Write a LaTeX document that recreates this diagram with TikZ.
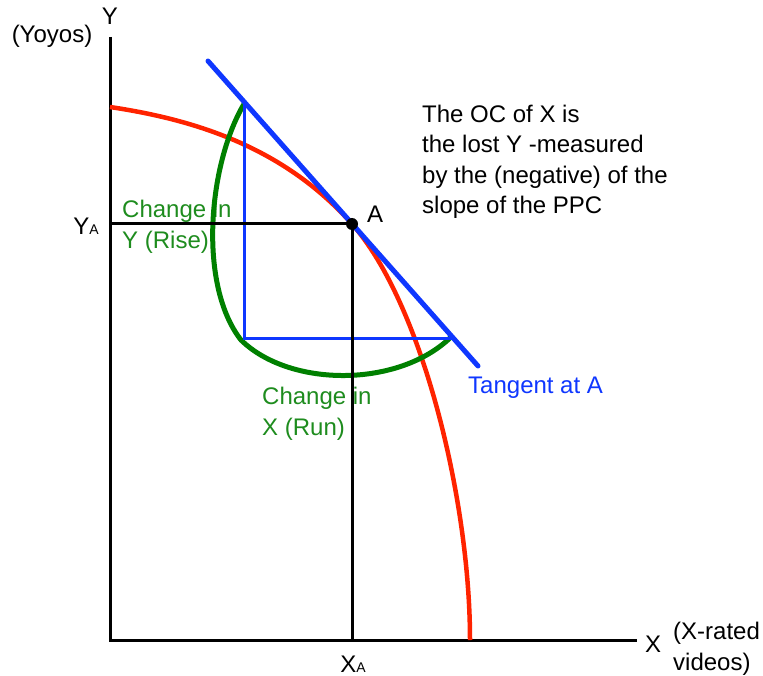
\documentclass[tikz,border=0pt]{standalone}
\usepackage{fontspec}
\setmainfont{Liberation Sans}
\usetikzlibrary{positioning}
\definecolor{ppcred}{RGB}{255,35,0}
\definecolor{tanblue}{RGB}{15,55,255}
\definecolor{chgreen}{RGB}{0,128,0}
\definecolor{chgtxt}{RGB}{30,140,30}
\newcommand{\sub}[1]{{\fontsize{14}{14}\selectfont #1}}

\begin{document}
\begin{tikzpicture}[x=1pt,y=-1pt,
  every node/.style={inner sep=0pt,font=\fontsize{24}{30.5}\selectfont},
  axisline/.style={black,line width=3pt},
  ppcline/.style={ppcred,line width=4.5pt},
  tanline/.style={tanblue,line width=5pt,line cap=round},
  riserun/.style={tanblue,line width=3pt},
  chgarc/.style={chgreen,line width=5pt,line join=round},
  chgtext/.style={text=chgtxt,align=left,anchor=west},
  dot/.style={circle,fill=black,minimum size=12pt}]
\useasboundingbox (0,0) rectangle (763,676);
\coordinate (o) at (110,640);
\coordinate (ytop) at (110,37);
\coordinate (xend) at (637,640);
\coordinate (A) at (352,224);
\coordinate (ya) at (110,224);
\coordinate (xa) at (352,640);
\coordinate (p0) at (110,107);
\coordinate (p1) at (470,640);
\coordinate (t1) at (208,61);
\coordinate (t2) at (478,366);
\coordinate (r1) at (244,101);
\coordinate (r2) at (244,338);
\coordinate (r3) at (453,338);
\coordinate (g1) at (244,104);
\coordinate (g2) at (241,340);
\coordinate (g3) at (452,336);
\node[chgtext] (rise) at (122,227) {Change in\\Y (Rise)};
\node[chgtext] (run) at (262,414) {Change in\\X (Run)};
\draw[axisline] (ytop) -- (o) -- (xend);
\draw[ppcline] (p0) .. controls (190,119) and (282,145) .. (A) .. controls (422,303) and (470,500) .. (p1);
\draw[chgarc] (g1) .. controls (208,165) and (198,285) .. (g2) .. controls (290,388) and (400,388) .. (g3);
\draw[riserun] (r1) -- (r2) -- (r3);
\draw[tanline] (t1) -- (t2);
\draw[axisline] (ya) -- (A) -- (xa);
\node[dot] (dotA) at (A) {};
\node[anchor=base] (ylab) at (110,25) {Y};
\node[anchor=base] (yoyos) at (52,43) {(Yoyos)};
\node[anchor=base] (yalab) at (86,235) {Y\sub{A}};
\node[anchor=base] (xalab) at (353,672) {X\sub{A}};
\node[anchor=base] (xlab) at (653,652) {X};
\node[align=left,anchor=west] (videos) at (673,649) {(X-rated\\videos)};
\node[anchor=base west] (alab) at (367,223) {A};
\node[anchor=base west,text=tanblue] (tanlab) at (468,393) {Tangent at A};
\node[align=left,anchor=west] (note) at (422,162) {The OC of X is\\the lost Y -measured\\by the (negative) of the\\slope of the PPC};
\end{tikzpicture}
\end{document}
